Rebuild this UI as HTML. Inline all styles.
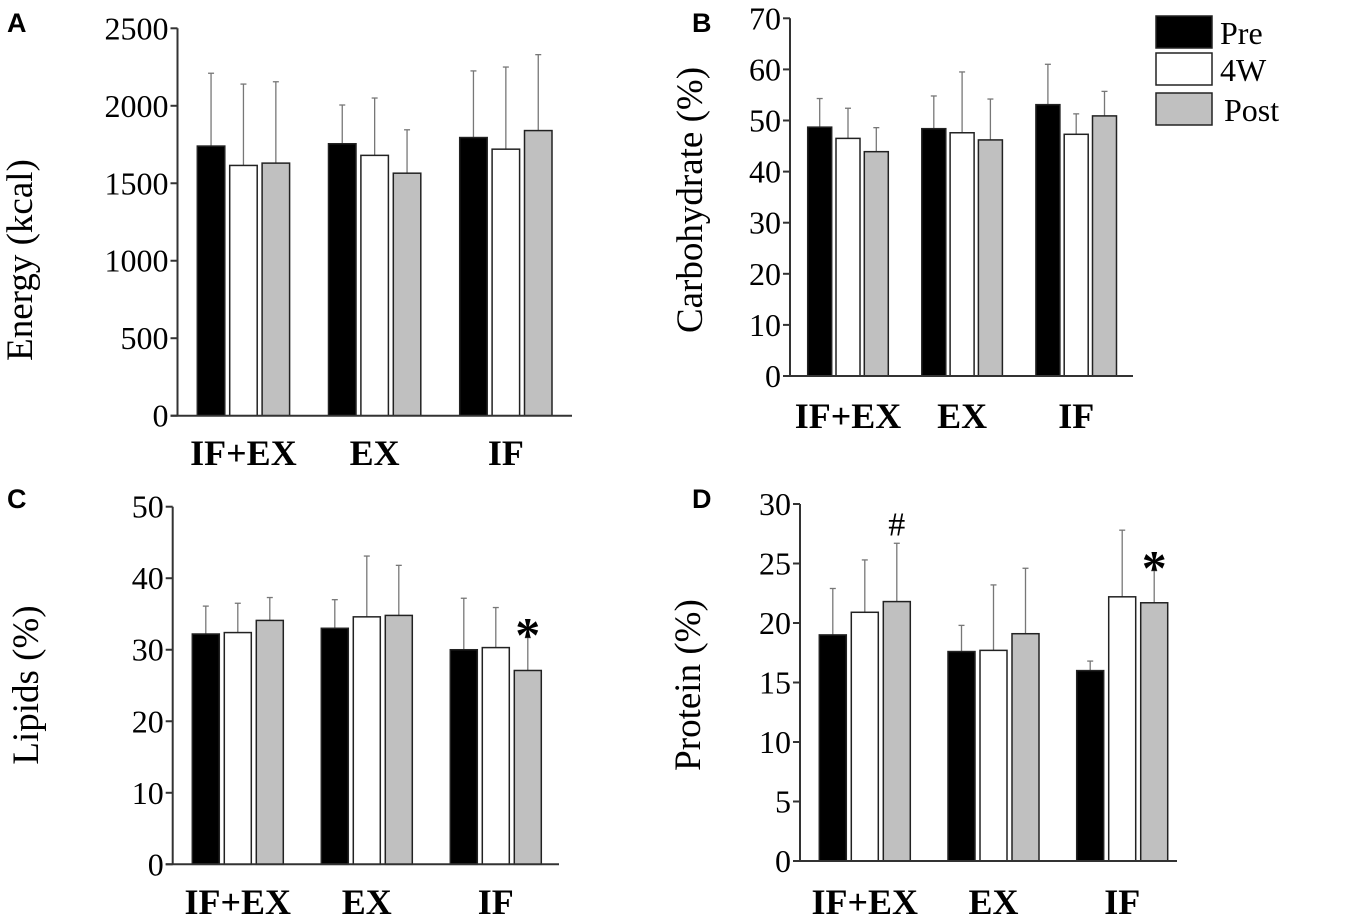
<!DOCTYPE html>
<html><head><meta charset="utf-8"><style>
body{margin:0;background:#fff}
svg text{font-family:"Liberation Serif",serif}
</style></head><body>
<svg id="fig" width="1350" height="916" viewBox="0 0 1350 916" xmlns="http://www.w3.org/2000/svg"></svg>
<script>
const categories = ["IF+EX","EX","IF"];
const seriesNames = ["Pre","4W","Post"];
const energyMean = [[1740,1615,1630],[1755,1680,1565],[1795,1720,1840]];
const energyUpper = [[2210,2140,2155],[2005,2050,1845],[2225,2250,2330]];
const carbMean = [[48.7,46.5,43.9],[48.4,47.6,46.2],[53.1,47.3,50.9]];
const carbUpper = [[54.3,52.4,48.6],[54.8,59.5,54.2],[61,51.3,55.7]];
const lipidMean = [[32.2,32.4,34.1],[33,34.6,34.8],[30,30.3,27.1]];
const lipidUpper = [[36.1,36.5,37.3],[37,43.1,41.8],[37.2,35.9,31.7]];
const proteinMean = [[19,20.9,21.8],[17.6,17.7,19.1],[16,22.2,21.7]];
const proteinUpper = [[22.9,25.3,26.7],[19.8,23.2,24.6],[16.8,27.8,24.4]];
const energyTicks = [0,500,1000,1500,2000,2500];
const carbTicks = [0,10,20,30,40,50,60,70];
const lipidTicks = [0,10,20,30,40,50];
const proteinTicks = [0,5,10,15,20,25,30];

const NS="http://www.w3.org/2000/svg";
const svg=document.getElementById('fig');
function el(tag,attrs,parent){const e=document.createElementNS(NS,tag);for(const k in attrs)e.setAttribute(k,attrs[k]);(parent||svg).appendChild(e);return e;}
const fills=["#000","#fff","#c0c0c0"];

const panels=[
 {id:"a",letter:"A",lx:7,ly:32,mean:energyMean,up:energyUpper,ticks:energyTicks,ax:177.5,x1:572,y0:415.7,yt:28.3,b0:197.3,bw:27.5,sp:32.4,go:131.2,title:"Energy (kcal)",tx:32,ty:260,catY:465,marks:[]},
 {id:"b",letter:"B",lx:692,ly:32,mean:carbMean,up:carbUpper,ticks:carbTicks,ax:790,x1:1133,y0:376,yt:18.3,b0:807.7,bw:24,sp:28.3,go:114.1,title:"Carbohydrate (%)",tx:702,ty:200,catY:428,marks:[]},
 {id:"c",letter:"C",lx:7,ly:508,mean:lipidMean,up:lipidUpper,ticks:lipidTicks,ax:172.7,x1:559,y0:864.3,yt:506.7,b0:192.3,bw:27,sp:32,go:129,title:"Lipids (%)",tx:38,ty:685,catY:914,marks:[[2,2,"*"]]},
 {id:"d",letter:"D",lx:692,ly:508,mean:proteinMean,up:proteinUpper,ticks:proteinTicks,ax:800,x1:1177,y0:861,yt:504,b0:819.3,bw:27,sp:32,go:128.7,title:"Protein (%)",tx:700,ty:685,catY:914,marks:[[0,2,"#"],[2,2,"*"]]}
];

panels.forEach(p=>{
  const g=el('g',{});
  
  
  const tmax=p.ticks[p.ticks.length-1];
  const y=v=>p.y0-(v/tmax)*(p.y0-p.yt);
  const bx=(c,s)=>p.b0+c*p.go+s*p.sp;
  const lt=el('text',{x:p.lx,y:p.ly,'font-size':27,'font-weight':'bold',style:'font-family:"Liberation Sans",sans-serif'},g);
  lt.textContent=p.letter;
  
  
  p.mean.forEach((row,c)=>row.forEach((v,s)=>{
    const x=bx(c,s), cx=x+p.bw/2;
    const eb=el('line',{x1:cx,x2:cx,y1:y(v),y2:y(p.up[c][s]),stroke:'#777','stroke-width':1.3},g);
    
    
    el('line',{x1:cx-3,x2:cx+3,y1:y(p.up[c][s]),y2:y(p.up[c][s]),stroke:'#777','stroke-width':1.3},g);
    const r=el('rect',{x:x,y:y(v),width:p.bw,height:p.y0-y(v),fill:fills[s],stroke:'#222','stroke-width':1.5},g);
    
    
  }));
  p.marks.forEach(m=>{
    const c=m[0],s=m[1];const cx=bx(c,s)+p.bw/2;
    const star=m[2]=="*";
    const t=el('text',{x:cx,y:y(p.up[c][s])-(star?-14:8),'font-size':star?50:34,'font-weight':star?'bold':'normal','text-anchor':'middle'},g);
    t.textContent=m[2];
    
    
  });
  const ya=el('line',{x1:p.ax,x2:p.ax,y1:p.yt,y2:p.y0,stroke:'#333','stroke-width':2},g);
  
  
  const xa=el('line',{x1:p.ax-7,x2:p.x1,y1:p.y0,y2:p.y0,stroke:'#333','stroke-width':2},g);
  
  
  p.ticks.forEach(t=>{
    el('line',{x1:p.ax-7,x2:p.ax,y1:y(t),y2:y(t),stroke:'#333','stroke-width':2},g);
    const tl=el('text',{x:p.ax-9,y:y(t)+11,'font-size':32,'text-anchor':'end'},g);
    tl.textContent=t;
    
    
  });
  categories.forEach((c,i)=>{
    const cx=bx(i,1)+p.bw/2;
    const cl=el('text',{x:cx,y:p.catY,'font-size':36,'font-weight':'bold','text-anchor':'middle'},g);
    cl.textContent=c;
    
    
  });
  const yt=el('text',{x:p.tx,y:p.ty,'font-size':37,'text-anchor':'middle',transform:`rotate(-90 ${p.tx} ${p.ty})`},g);
  yt.textContent=p.title;
  
  
});

const lg=el('g',{});


const ly=[16,53,93];
seriesNames.forEach((n,i)=>{
  const r=el('rect',{x:1156,y:ly[i],width:56,height:32,fill:fills[i],stroke:'#222','stroke-width':1.5},lg);
  
  
  const t=el('text',{x:i==2?1224:1220,y:ly[i]+28,'font-size':32},lg);
  t.textContent=n;
  
  
});
</script>
</body></html>
